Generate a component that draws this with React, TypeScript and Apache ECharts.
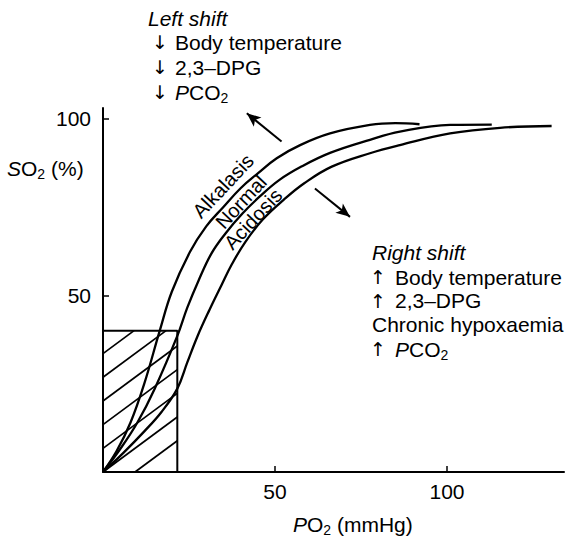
import React, { useEffect, useRef } from 'react';
import * as echarts from 'echarts';

// PO2 (mmHg) / SO2 (%)
const alkalosisPO2 = [0, 4, 8, 12, 16.5, 20, 25.3, 30, 35, 40, 45, 50.5, 57.3, 66, 77.6, 85, 92];
const alkalosisSO2 = [0, 6, 14, 25, 40, 51, 62.3, 69.5, 75, 80.3, 84.5, 88.8, 92.5, 95.8, 98.2, 98.7, 98.4];

const normalPO2 = [0, 5, 10, 15, 21.6, 24.5, 27.7, 31.5, 35.6, 40.6, 45.5, 51.2, 57.8, 66, 77.6, 86.3, 100.9, 113];
const normalSO2 = [0, 6.5, 14, 23.5, 38.5, 46.5, 54, 61.8, 67.5, 73.2, 77.9, 82.6, 86.5, 90.3, 94, 96.3, 98.2, 98.3];

const acidosisPO2 = [0, 6, 12, 17, 21.6, 24.5, 27.5, 31, 34.5, 37.3, 41.3, 46.5, 52.5, 58.5, 66.5, 77.6, 86.3, 100.9, 115.4, 130.4];
const acidosisSO2 = [0, 5.5, 11.5, 17, 23.6, 31, 38.5, 46, 53, 58.5, 65, 71.5, 77, 81.7, 86.4, 90.2, 92.5, 95.8, 97.4, 97.9];

const xTicks = [50, 100];
const yTicks = [50, 100];

// hatched box (PO2 limit, SO2 limit) and hatch line offsets (SO2 at PO2 = 0)
const boxPO2 = 21.6;
const boxSO2 = 40;
const hatchSlope = 0.72;
const hatchOffsets = [33.5, 26.8, 20.1, 13.4, 6.7, 0, -6.7];

// shift arrows: [from, to] in (PO2, SO2)
const shiftArrows = [
  [[51.9, 93.5], [41.8, 101.5]],
  [[61.6, 80.2], [71.8, 72.2]],
];

const curveLabels = ['Alkalasis', 'Normal', 'Acidosis'];
const leftShiftLines = ['Body temperature', '2,3\u2013DPG', '{i|P}CO{s|2}'];
const rightShiftLines = ['Body temperature', '2,3\u2013DPG'];

const FONT = '"Liberation Sans", Arial, Helvetica, sans-serif';
const ARROW_FONT = '"DejaVu Sans", "Liberation Sans", sans-serif';

export default function App() {
  const ref = useRef<HTMLDivElement>(null);

  useEffect(() => {
    const chart = echarts.init(ref.current!, null, { renderer: 'svg' });

    const pair = (xs: number[], ys: number[]) => xs.map((x, i) => [x, ys[i]]);
    const curve = (name: string, xs: number[], ys: number[]) => ({
      type: 'line',
      name,
      data: pair(xs, ys),
      symbol: 'none',
      showSymbol: false,
      smooth: 0.4,
      silent: true,
      z: 3,
      lineStyle: { color: '#000', width: 2.3 },
    });

    const hatch = hatchOffsets.map((c) => {
      const x0 = Math.max(0, -c / hatchSlope);
      const x1 = Math.min(boxPO2, (boxSO2 - c) / hatchSlope);
      return {
        type: 'line',
        data: [
          [x0, hatchSlope * x0 + c],
          [x1, hatchSlope * x1 + c],
        ],
        symbol: 'none',
        silent: true,
        lineStyle: { color: '#000', width: 1.7 },
      };
    });

    const rich = {
      i: { fontStyle: 'italic', fontSize: 21, fontFamily: FONT, verticalAlign: 'middle', fill: '#000' },
      s: { fontSize: 14, fontFamily: FONT, padding: [12, 0, 0, 0], verticalAlign: 'middle', fill: '#000' },
    };

    const txt = (x: number, y: number, text: string, extra: any = {}) => ({
      type: 'text',
      x,
      y,
      silent: true,
      style: {
        text,
        fill: '#000',
        fontSize: 21,
        fontFamily: FONT,
        align: 'left',
        verticalAlign: 'middle',
        rich,
        ...extra,
      },
    });
    const arrow = (x: number, y: number, ch: string) =>
      txt(x, y, ch, { fontFamily: ARROW_FONT, fontSize: 19 });

    const graphics: any[] = [];
    // left shift block
    graphics.push(txt(148, 18, 'Left shift', { fontStyle: 'italic' }));
    leftShiftLines.forEach((t, i) => {
      const y = 42 + i * 25;
      graphics.push(arrow(152, y, '\u2193'));
      graphics.push(txt(175, y, t));
    });
    // right shift block
    graphics.push(txt(372, 252, 'Right shift', { fontStyle: 'italic' }));
    rightShiftLines.forEach((t, i) => {
      const y = 277 + i * 23.5;
      graphics.push(arrow(370, y, '\u2191'));
      graphics.push(txt(395, y, t));
    });
    graphics.push(txt(372, 324, 'Chronic hypoxaemia'));
    graphics.push(arrow(370, 349, '\u2191'));
    graphics.push(txt(395, 349, '{i|P}CO{s|2}'));

    // axis titles
    graphics.push(txt(7, 168, '{i|S}O{s|2} (%)'));
    graphics.push(txt(293, 524, '{i|P}O{s|2} (mmHg)'));

    // curve labels
    const labelPos = [
      [223, 186],
      [241, 202],
      [253, 219],
    ];
    curveLabels.forEach((t, i) => {
      graphics.push({
        type: 'text',
        x: labelPos[i][0],
        y: labelPos[i][1],
        rotation: (47 * Math.PI) / 180,
        silent: true,
        style: { text: t, fill: '#000', fontSize: 20, fontFamily: FONT, align: 'center', verticalAlign: 'middle' },
      });
    });

    const axisCommon = {
      type: 'value',
      interval: 50,
      splitLine: { show: false },
      axisLine: { show: true, lineStyle: { color: '#000', width: 2 } },
    };

    chart.setOption({
      animation: false,
      backgroundColor: '#fff',
      grid: { left: 103, right: 1, top: 108, bottom: 66, containLabel: false },
      xAxis: {
        ...axisCommon,
        min: 0,
        max: 134,
        axisTick: { show: true, inside: true, length: 6, customValues: xTicks, lineStyle: { color: '#000', width: 1.5 } },
        axisLabel: { customValues: xTicks, fontSize: 21, color: '#000', fontFamily: FONT, margin: 9 },
      },
      yAxis: {
        ...axisCommon,
        min: 0,
        max: 103,
        axisTick: { show: true, inside: true, length: 6, customValues: yTicks, lineStyle: { color: '#000', width: 1.5 } },
        axisLabel: { customValues: yTicks, fontSize: 21, color: '#000', fontFamily: FONT, margin: 12 },
      },
      series: [
        curve('Alkalosis', alkalosisPO2, alkalosisSO2),
        curve('Normal', normalPO2, normalSO2),
        curve('Acidosis', acidosisPO2, acidosisSO2),
        ...hatch,
        {
          type: 'line',
          name: 'box',
          data: [
            [0, boxSO2],
            [boxPO2, boxSO2],
            [boxPO2, 0],
          ],
          symbol: 'none',
          silent: true,
          lineStyle: { color: '#000', width: 2 },
          markLine: {
            silent: true,
            symbol: ['none', 'arrow'],
            symbolSize: [9, 14],
            label: { show: false },
            lineStyle: { color: '#000', width: 2, type: 'solid' },
            data: shiftArrows.map(([a, b]) => [{ coord: a }, { coord: b }]),
          },
        },
      ],
      graphic: graphics,
    });

    return () => chart.dispose();
  }, []);

  return <div ref={ref} style={{ position: 'fixed', left: 0, top: 0, width: 565, height: 538 }} />;
}
